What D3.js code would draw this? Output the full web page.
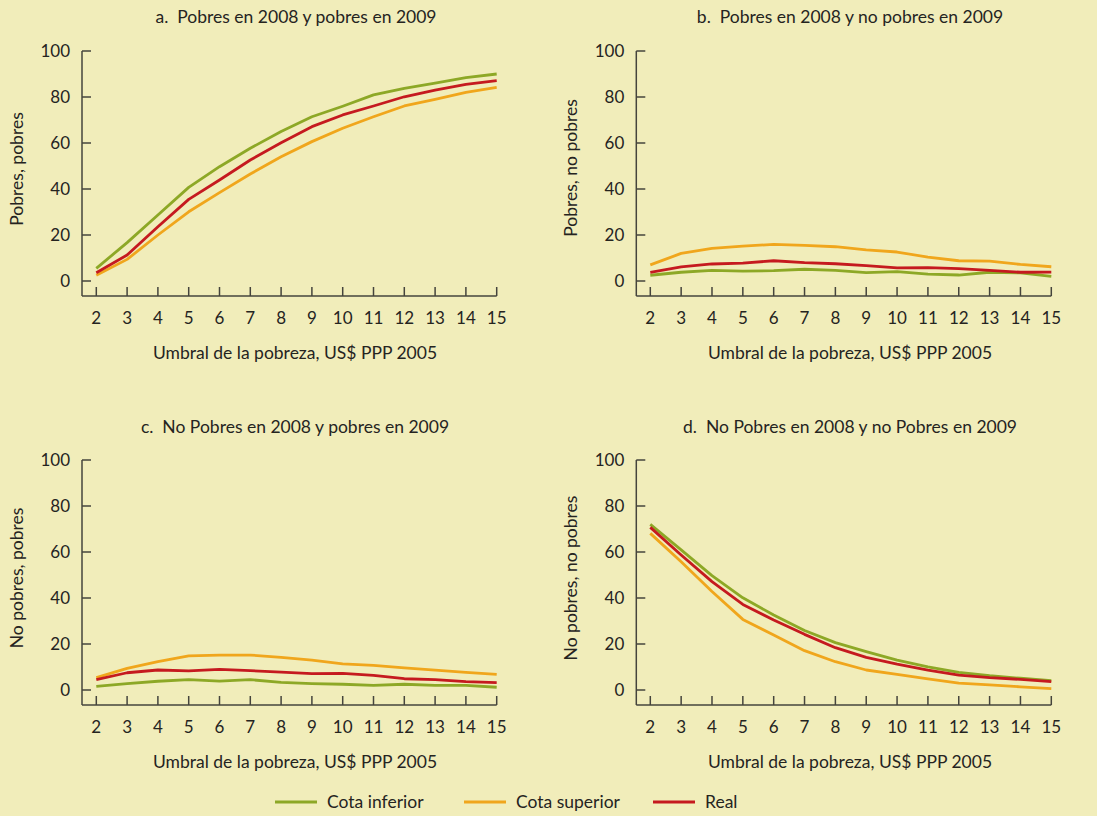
<!DOCTYPE html>
<html>
<head>
<meta charset="utf-8">
<script src="https://cdn.jsdelivr.net/npm/d3@7"></script>
<style>
  html, body { margin: 0; padding: 0; background: #F1EDBA; }
  svg { display: block; }
  text { font-family: Lato, "Noto Sans", sans-serif; fill: #25241f; white-space: pre; }
</style>
</head>
<body>
<svg id="chart" width="1097" height="816"></svg>
<script>
// ---- Data ----
const thresholds = [2,3,4,5,6,7,8,9,10,11,12,13,14,15];
const yTicks = [0,20,40,60,80,100];
const seriesNames = ["Cota inferior", "Cota superior", "Real"];
const seriesColors = ["#8DA826", "#F0A61C", "#C51A1F"];

const panelTitles = [
  "a.  Pobres en 2008 y pobres en 2009",
  "b.  Pobres en 2008 y no pobres en 2009",
  "c.  No Pobres en 2008 y pobres en 2009",
  "d.  No Pobres en 2008 y no Pobres en 2009"
];
const yLabels = ["Pobres, pobres", "Pobres, no pobres", "No pobres, pobres", "No pobres, no pobres"];
const xLabel = "Umbral de la pobreza, US$ PPP 2005";

// Panel a
const aInferior = [5.5,16.7,28.7,40.7,49.7,57.7,65,71.4,76,80.9,83.8,86,88.4,90];
const aSuperior = [2.5,9.4,20,30.1,38.4,46.5,54,60.6,66.4,71.4,76.1,79,82,84.2];
const aReal     = [3.6,11.3,23.6,35.5,43.9,52.6,60.1,67.1,72.2,76.1,80.1,83,85.5,87.1];
// Panel b
const bInferior = [2.5,3.8,4.6,4.3,4.5,5.1,4.6,3.6,4.1,3,2.6,3.8,3.5,2];
const bSuperior = [7,12,14.2,15.2,15.9,15.5,14.9,13.5,12.6,10.4,8.8,8.6,7.2,6.2];
const bReal     = [3.8,6.1,7.4,7.8,8.8,8,7.5,6.7,5.7,5.8,5.4,4.6,3.8,3.9];
// Panel c
const cInferior = [1.6,2.8,3.8,4.5,3.9,4.5,3.3,2.8,2.5,2,2.5,2,2,1.2];
const cSuperior = [5.4,9.4,12.3,14.8,15.2,15.2,14.2,13,11.4,10.7,9.6,8.6,7.7,6.8];
const cReal     = [4.5,7.5,8.7,8.3,9,8.4,7.8,7.1,7.2,6.4,4.9,4.5,3.6,3.2];
// Panel d
const dInferior = [72,60.9,49.7,40.1,32.6,25.9,20.6,16.7,13,10.1,7.7,6.2,5.1,4.1];
const dSuperior = [68.1,55.8,42.8,30.7,23.9,17.1,12.3,8.7,6.8,4.8,3,2.2,1.4,0.6];
const dReal     = [70.7,58.7,47.1,37.2,30.4,24.2,18.4,14.2,11.2,8.6,6.5,5.4,4.6,3.6];

const panelData = [
  [aInferior, aSuperior, aReal],
  [bInferior, bSuperior, bReal],
  [cInferior, cSuperior, cReal],
  [dInferior, dSuperior, dReal]
];

// ---- Layout ----
const panels = [
  {axisX: 82,    x0: 96.3,  x1: 496.7,  yTop: 51,  yZero: 281, yBottom: 296, titleX: 296, titleY: 17,  yLabX: 17,  yLabY: 169, xLabX: 295, xLabY: 353},
  {axisX: 636.3, x0: 650.3, x1: 1051.3, yTop: 51,  yZero: 281, yBottom: 296, titleX: 850, titleY: 17,  yLabX: 571, yLabY: 168, xLabX: 850, xLabY: 353},
  {axisX: 82,    x0: 96.3,  x1: 496.7,  yTop: 460, yZero: 690, yBottom: 705, titleX: 295, titleY: 427, yLabX: 17,  yLabY: 578, xLabX: 295, xLabY: 762},
  {axisX: 636.3, x0: 650.3, x1: 1051.3, yTop: 460, yZero: 690, yBottom: 705, titleX: 850, titleY: 427, yLabX: 571, yLabY: 578, xLabX: 850, xLabY: 762}
];

const svg = d3.select("#chart");
const axisColor = "#45443c";
const fs = 17.5;
const tfs = 17;

panels.forEach((p, i) => {
  const g = svg.append("g");
  const x = d3.scaleLinear().domain([2, 15]).range([p.x0, p.x1]);
  const y = d3.scaleLinear().domain([0, 100]).range([p.yZero, p.yTop]);

  // y axis: vertical spine + inward ticks
  g.append("line")
    .attr("x1", p.axisX).attr("x2", p.axisX)
    .attr("y1", p.yTop).attr("y2", p.yBottom)
    .attr("stroke", axisColor).attr("stroke-width", 1.5);
  g.selectAll(".yt").data(yTicks).enter().append("line")
    .attr("x1", p.axisX).attr("x2", p.axisX + 9)
    .attr("y1", d => y(d)).attr("y2", d => y(d))
    .attr("stroke", axisColor).attr("stroke-width", 1.5);
  g.selectAll(".yl").data(yTicks).enter().append("text")
    .attr("x", p.axisX - 12).attr("y", d => y(d))
    .attr("dy", "0.36em")
    .attr("text-anchor", "end")
    .style("font-size", tfs + "px")
    .text(d => d);

  // x axis: horizontal spine + upward ticks
  g.append("line")
    .attr("x1", p.axisX).attr("x2", p.x1)
    .attr("y1", p.yBottom).attr("y2", p.yBottom)
    .attr("stroke", axisColor).attr("stroke-width", 1.5);
  g.selectAll(".xt").data(thresholds).enter().append("line")
    .attr("x1", d => x(d)).attr("x2", d => x(d))
    .attr("y1", p.yBottom).attr("y2", p.yBottom - 9)
    .attr("stroke", axisColor).attr("stroke-width", 1.5);
  g.selectAll(".xl").data(thresholds).enter().append("text")
    .attr("x", d => x(d)).attr("y", p.yBottom + 22)
    .attr("dy", "0.36em")
    .attr("text-anchor", "middle")
    .style("font-size", tfs + "px")
    .text(d => d);

  // lines
  const line = d3.line().x((d, j) => x(thresholds[j])).y(d => y(d));
  panelData[i].forEach((vals, k) => {
    g.append("path")
      .datum(vals)
      .attr("d", line)
      .attr("fill", "none")
      .attr("stroke", seriesColors[k])
      .attr("stroke-width", 2.8)
      .attr("stroke-linejoin", "round");
  });

  // titles and labels
  g.append("text")
    .attr("x", p.titleX).attr("y", p.titleY).attr("dy", "0.36em")
    .attr("text-anchor", "middle")
    .style("font-size", fs + "px")
    .text(panelTitles[i]);
  g.append("text")
    .attr("x", p.xLabX).attr("y", p.xLabY).attr("dy", "0.36em")
    .attr("text-anchor", "middle")
    .style("font-size", fs + "px")
    .text(xLabel);
  g.append("text")
    .attr("transform", `translate(${p.yLabX},${p.yLabY}) rotate(-90)`)
    .attr("dy", "0.36em")
    .attr("text-anchor", "middle")
    .style("font-size", fs + "px")
    .text(yLabels[i]);
});

// ---- Legend ----
const legendX = [275, 464, 653];
const legendY = 802;
const lg = svg.append("g");
seriesNames.forEach((name, k) => {
  lg.append("line")
    .attr("x1", legendX[k]).attr("x2", legendX[k] + 42)
    .attr("y1", legendY).attr("y2", legendY)
    .attr("stroke", seriesColors[k]).attr("stroke-width", 2.8);
  lg.append("text")
    .attr("x", legendX[k] + 52).attr("y", legendY).attr("dy", "0.36em")
    .style("font-size", fs + "px")
    .text(name);
});
</script>
</body>
</html>
